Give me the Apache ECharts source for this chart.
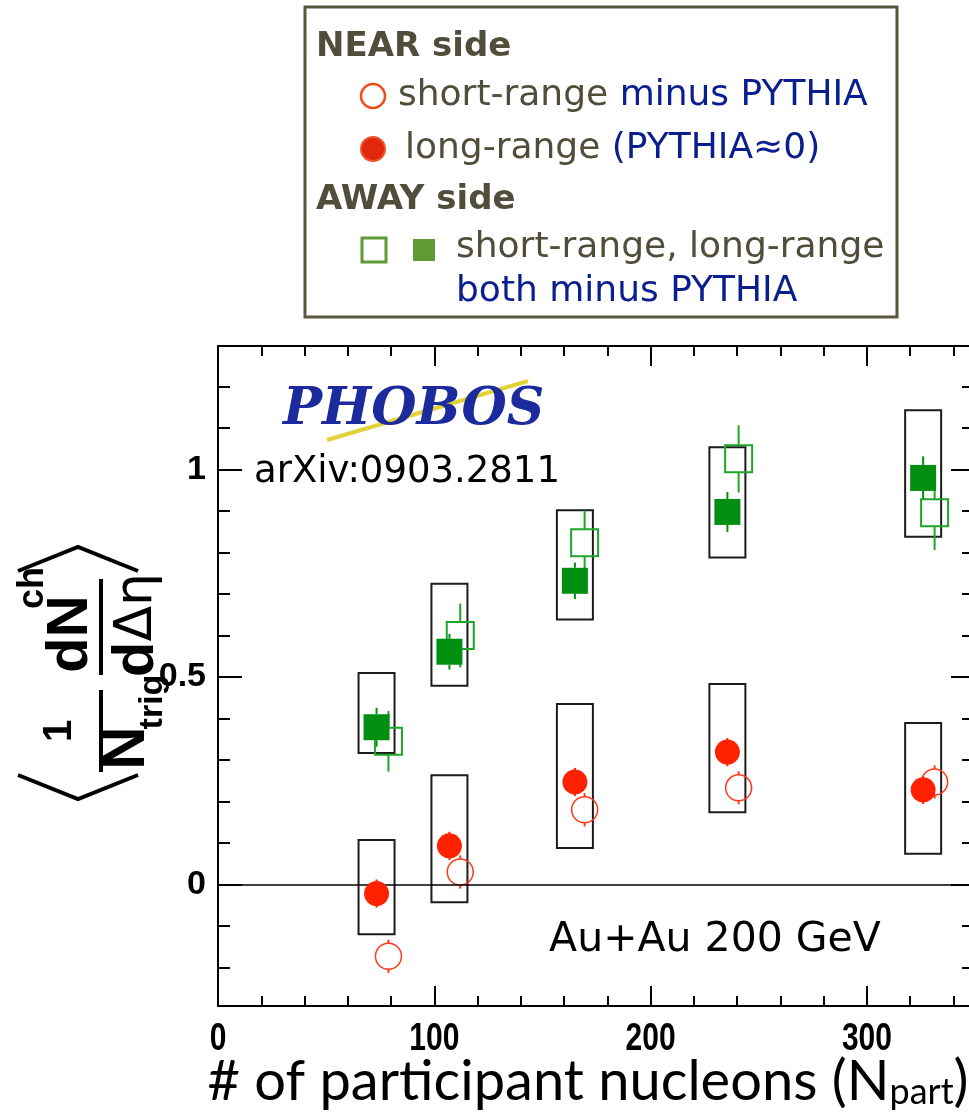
<!DOCTYPE html>
<html>
<head>
<meta charset="utf-8">
<script src="https://cdn.jsdelivr.net/npm/echarts@6/dist/echarts.min.js"></script>
<style>
html, body { margin: 0; padding: 0; background: #ffffff; overflow: hidden; }
#chart { width: 969px; height: 1117px; }
</style>
</head>
<body>
<div id="chart"></div>
<script>
// PHOBOS Au+Au 200 GeV: near- and away-side associated yields vs. Npart

// centrality bins: Npart for long-range points (and box centres), short-range points shifted for visibility
const npartLong  = [73.3, 107.0, 165.0, 235.5, 326.0];
const npartShort = [78.8, 112.0, 169.5, 240.7, 331.3];

// NEAR side
const nearLong      = [-0.022, 0.093, 0.247, 0.319, 0.228];
const nearLongErr   = [0.034, 0.034, 0.034, 0.034, 0.034];
const nearShort     = [-0.173, 0.030, 0.180, 0.233, 0.247];
const nearShortErr  = [0.040, 0.040, 0.040, 0.040, 0.040];
const nearSysLow    = [-0.120, -0.043, 0.088, 0.174, 0.074];
const nearSysHigh   = [0.107, 0.263, 0.435, 0.483, 0.389];

// AWAY side
const awayLong      = [0.379, 0.561, 0.732, 0.898, 0.980];
const awayLongErr   = [0.047, 0.043, 0.044, 0.048, 0.052];
const awayShort     = [0.345, 0.600, 0.824, 1.026, 0.896];
const awayShortErr  = [0.073, 0.077, 0.077, 0.081, 0.090];
const awaySysLow    = [0.317, 0.479, 0.639, 0.788, 0.838];
const awaySysHigh   = [0.510, 0.725, 0.902, 1.054, 1.143];

// axis ranges and ticks (the frame runs to the right edge of the page)
const xRange = [0, 347.2];
const yRange = [-0.293, 1.298];
const xMajorTicks = [0, 100, 200, 300];
const xMinorTicks = [20, 40, 60, 80, 120, 140, 160, 180, 220, 240, 260, 280, 320, 340];
const yMajorTicks = [0, 0.5, 1];
const yMinorTicks = [-0.2, -0.1, 0.1, 0.2, 0.3, 0.4, 0.6, 0.7, 0.8, 0.9, 1.1, 1.2];

const RED = '#ff2200';
const RED_OPEN = '#ff3a1a';
const GREEN = '#008f10';
const GREEN_OPEN = '#1fa52a';
const BOX = '#1c1c1c';

const chart = echarts.init(document.getElementById('chart'), null, { renderer: 'canvas' });

function axisX(position, ticks, len) {
  return {
    type: 'value', position: position, min: xRange[0], max: xRange[1],
    axisLine: { show: true, onZero: false, lineStyle: { color: '#000', width: 2 } },
    axisTick: { show: true, inside: true, length: len, customValues: ticks, lineStyle: { color: '#000', width: 2 } },
    axisLabel: { show: false },
    splitLine: { show: false }
  };
}
function axisY(position, ticks, len, labels, line) {
  return {
    type: 'value', position: position, min: yRange[0], max: yRange[1],
    axisLine: { show: line, onZero: false, lineStyle: { color: '#000', width: 2 } },
    axisTick: { show: true, inside: true, length: len, customValues: ticks, lineStyle: { color: '#000', width: 2 } },
    axisLabel: labels ? {
      show: true, customValues: ticks, margin: 12, color: '#000',
      fontFamily: '"Liberation Sans", Arial, sans-serif', fontWeight: 'bold', fontSize: 34,
      formatter: v => String(v)
    } : { show: false },
    splitLine: { show: false }
  };
}

// systematic-uncertainty boxes
function boxSeries(low, high) {
  return {
    type: 'custom', xAxisIndex: 0, yAxisIndex: 0, z: 2, silent: true,
    data: npartLong.map((x, i) => [x, low[i], high[i]]),
    encode: { x: 0, y: [1, 2] },
    renderItem: function (params, api) {
      const top = api.coord([api.value(0), api.value(2)]);
      const bot = api.coord([api.value(0), api.value(1)]);
      return {
        type: 'rect',
        shape: { x: top[0] - 18, y: top[1], width: 36, height: bot[1] - top[1] },
        style: { fill: 'none', stroke: BOX, lineWidth: 2 }
      };
    }
  };
}

// statistical error bars, drawn outside the marker
function errSeries(xs, ys, errs, color, half) {
  return {
    type: 'custom', xAxisIndex: 0, yAxisIndex: 0, z: 3, silent: true,
    data: xs.map((x, i) => [x, ys[i], errs[i]]),
    encode: { x: 0, y: 1 },
    renderItem: function (params, api) {
      const x = api.value(0), y = api.value(1), e = api.value(2);
      const c = api.coord([x, y]);
      const hi = api.coord([x, y + e]);
      const lo = api.coord([x, y - e]);
      const kids = [];
      if (c[1] - hi[1] > half) {
        kids.push({ type: 'line', shape: { x1: c[0], y1: hi[1], x2: c[0], y2: c[1] - half }, style: { stroke: color, lineWidth: 2 } });
      }
      if (lo[1] - c[1] > half) {
        kids.push({ type: 'line', shape: { x1: c[0], y1: c[1] + half, x2: c[0], y2: lo[1] }, style: { stroke: color, lineWidth: 2 } });
      }
      return { type: 'group', children: kids };
    }
  };
}

function markerSeries(xs, ys, symbol, size, style, z) {
  return {
    type: 'scatter', xAxisIndex: 0, yAxisIndex: 0, z: z, silent: true,
    symbol: symbol, symbolSize: size,
    data: xs.map((x, i) => [x, ys[i]]),
    itemStyle: Object.assign({ opacity: 1 }, style)
  };
}

const ink = '#504d3a';
const blue = '#0b1e8e';
const legendFont = '"DejaVu Sans", "Open Sans", sans-serif';

const graphics = [
  // legend panel
  { type: 'rect', shape: { x: 305, y: 7, width: 592, height: 310 },
    style: { fill: '#ffffff', stroke: '#5a5740', lineWidth: 3 }, z: 10 },
  { type: 'text', x: 316, y: 47, z: 11,
    style: { text: 'NEAR side', font: 'bold 34px ' + legendFont, fill: ink, verticalAlign: 'middle', textVerticalAlign: 'middle' } },
  { type: 'circle', shape: { cx: 373, cy: 96, r: 12 }, z: 11,
    style: { fill: '#ffffff', stroke: '#f24a1c', lineWidth: 2.5 } },
  { type: 'text', x: 398, y: 96, z: 11,
    style: { text: '{g|short-range }{b|minus PYTHIA}', verticalAlign: 'middle', textVerticalAlign: 'middle',
      rich: { g: { font: '36px ' + legendFont, fill: ink }, b: { font: '36px ' + legendFont, fill: blue } } } },
  { type: 'circle', shape: { cx: 373, cy: 149, r: 12 }, z: 11,
    style: { fill: '#e2280c', stroke: '#f0542e', lineWidth: 2 } },
  { type: 'text', x: 405, y: 149, z: 11,
    style: { text: '{g|long-range }{b|(PYTHIA\u22480)}', verticalAlign: 'middle', textVerticalAlign: 'middle',
      rich: { g: { font: '36px ' + legendFont, fill: ink }, b: { font: '36px ' + legendFont, fill: blue } } } },
  { type: 'text', x: 316, y: 200, z: 11,
    style: { text: 'AWAY side', font: 'bold 34px ' + legendFont, fill: ink, verticalAlign: 'middle', textVerticalAlign: 'middle' } },
  { type: 'rect', shape: { x: 362, y: 238, width: 24, height: 24 }, z: 11,
    style: { fill: '#ffffff', stroke: '#5f9a35', lineWidth: 3 } },
  { type: 'rect', shape: { x: 413, y: 239, width: 22, height: 22 }, z: 11,
    style: { fill: '#5f9a35' } },
  { type: 'text', x: 456, y: 248, z: 11,
    style: { text: 'short-range, long-range', font: '36px ' + legendFont, fill: ink, verticalAlign: 'middle', textVerticalAlign: 'middle' } },
  { type: 'text', x: 456, y: 292, z: 11,
    style: { text: 'both minus PYTHIA', font: '36px ' + legendFont, fill: blue, verticalAlign: 'middle', textVerticalAlign: 'middle' } },

  // experiment logo
  { type: 'polyline', z: 10, shape: { points: [[327, 440], [528, 381]] },
    style: { stroke: '#e2d23a', lineWidth: 4 } },
  { type: 'text', x: 283, y: 410, z: 11,
    style: { text: 'PHOBOS', font: 'italic bold 52px "DejaVu Serif", serif', fill: '#1b2a9c', verticalAlign: 'middle', textVerticalAlign: 'middle' } },
  { type: 'text', x: 254, y: 472, z: 11,
    style: { text: 'arXiv:0903.2811', font: '37px "DejaVu Sans", sans-serif', fill: '#000', verticalAlign: 'middle', textVerticalAlign: 'middle' } },
  { type: 'text', x: 715, y: 940, z: 11,
    style: { text: 'Au+Au 200 GeV', font: '41px "DejaVu Sans", sans-serif', fill: '#000', align: 'center', textAlign: 'center', verticalAlign: 'middle', textVerticalAlign: 'middle' } },

  // x-axis title
  { type: 'text', x: 588, y: 1082, z: 11,
    style: { text: '# of participant nucleons (N{s|part})', font: '56px Lato, "Open Sans", sans-serif', fill: '#000',
      align: 'center', textAlign: 'center', verticalAlign: 'middle', textVerticalAlign: 'middle',
      rich: { s: { font: '36px Lato, "Open Sans", sans-serif', fill: '#000', verticalAlign: 'bottom' } } } },

  // y-axis title: < 1/N_trig  dN_ch/dΔη >, laid out along the axis
  { type: 'group', x: 95, y: 668, rotation: Math.PI / 2, z: 11,
    children: [
      { type: 'polyline', shape: { points: [[-107, -77], [-131, -17], [-107, 43]] }, style: { stroke: '#000', lineWidth: 4, fill: null } },
      { type: 'polyline', shape: { points: [[97, -77], [121, -17], [97, 43]] }, style: { stroke: '#000', lineWidth: 4, fill: null } },
      { type: 'text', x: -63, y: -35,
        style: { text: '1', font: 'bold 40px "Liberation Sans", Arial, sans-serif', fill: '#000', align: 'center', textAlign: 'center', verticalAlign: 'middle', textVerticalAlign: 'middle' } },
      { type: 'line', shape: { x1: -104, y1: 6, x2: -22, y2: 6 }, style: { stroke: '#000', lineWidth: 4 } },
      { type: 'text', x: -80, y: 32,
        style: { text: 'N', font: 'bold 60px "Liberation Sans", Arial, sans-serif', fill: '#000', align: 'center', textAlign: 'center', verticalAlign: 'middle', textVerticalAlign: 'middle' } },
      { type: 'text', x: -34, y: 58,
        style: { text: 'trig', font: 'bold 34px "Liberation Sans", Arial, sans-serif', fill: '#000', align: 'center', textAlign: 'center', verticalAlign: 'middle', textVerticalAlign: 'middle' } },
      { type: 'line', shape: { x1: -7, y1: 6, x2: 89, y2: 6 }, style: { stroke: '#000', lineWidth: 4 } },
      { type: 'text', x: 34, y: -24,
        style: { text: 'dN', font: 'bold 58px "Liberation Sans", Arial, sans-serif', fill: '#000', align: 'center', textAlign: 'center', verticalAlign: 'middle', textVerticalAlign: 'middle' } },
      { type: 'text', x: 80, y: -62,
        style: { text: 'ch', font: 'bold 36px "Liberation Sans", Arial, sans-serif', fill: '#000', align: 'center', textAlign: 'center', verticalAlign: 'middle', textVerticalAlign: 'middle' } },
      { type: 'text', x: 43, y: 42,
        style: { text: '{d|d}{g|\u0394\u03b7}', fill: '#000', align: 'center', textAlign: 'center', verticalAlign: 'middle', textVerticalAlign: 'middle',
          rich: { d: { font: 'bold 58px "Liberation Sans", Arial, sans-serif', fill: '#000' }, g: { font: '52px "DejaVu Sans", sans-serif', fill: '#000' } } } }
    ] }
];

const option = {
  animation: false,
  backgroundColor: '#ffffff',
  grid: { left: 218, top: 346, right: 0, height: 660, containLabel: false },
  xAxis: [
    axisX('bottom', xMajorTicks, 20),
    axisX('bottom', xMinorTicks, 10),
    axisX('top', xMajorTicks, 20),
    axisX('top', xMinorTicks, 10)
  ],
  yAxis: [
    axisY('left', yMajorTicks, 24, true, true),
    axisY('left', yMinorTicks, 12, false, true),
    axisY('right', yMajorTicks, 18, false, false),
    axisY('right', yMinorTicks, 7, false, false)
  ],
  series: [
    Object.assign(boxSeries(nearSysLow, nearSysHigh), {
      markLine: {
        silent: true, symbol: ['none', 'none'], label: { show: false },
        lineStyle: { color: '#000', width: 1.5, type: 'solid' },
        data: [{ yAxis: 0 }]
      }
    }),
    boxSeries(awaySysLow, awaySysHigh),
    errSeries(npartShort, awayShort, awayShortErr, GREEN_OPEN, 13),
    errSeries(npartLong, awayLong, awayLongErr, GREEN, 13),
    errSeries(npartShort, nearShort, nearShortErr, RED_OPEN, 13),
    errSeries(npartLong, nearLong, nearLongErr, RED, 12),
    markerSeries(npartShort, awayShort, 'rect', 27, { color: 'rgba(0,0,0,0)', borderColor: GREEN_OPEN, borderWidth: 2 }, 4),
    markerSeries(npartShort, nearShort, 'circle', 26, { color: 'rgba(0,0,0,0)', borderColor: RED_OPEN, borderWidth: 1.5 }, 4),
    markerSeries(npartLong, awayLong, 'rect', 26, { color: GREEN }, 5),
    markerSeries(npartLong, nearLong, 'circle', 25, { color: RED }, 5)
  ],
  graphic: graphics
};

chart.setOption(option);

// x tick labels: bold, slightly tall digits, placed at the axis' own tick positions
const xLabelGraphics = xMajorTicks.map(v => {
  const px = chart.convertToPixel({ xAxisIndex: 0 }, v);
  return {
    type: 'text', x: px, y: 1020, scaleY: 1.3, z: 11,
    style: { text: String(v), font: 'bold 30px "Liberation Sans", Arial, sans-serif', fill: '#000',
      align: 'center', textAlign: 'center', verticalAlign: 'top', textVerticalAlign: 'top' }
  };
});
chart.setOption({ graphic: graphics.concat(xLabelGraphics) });
</script>
</body>
</html>
